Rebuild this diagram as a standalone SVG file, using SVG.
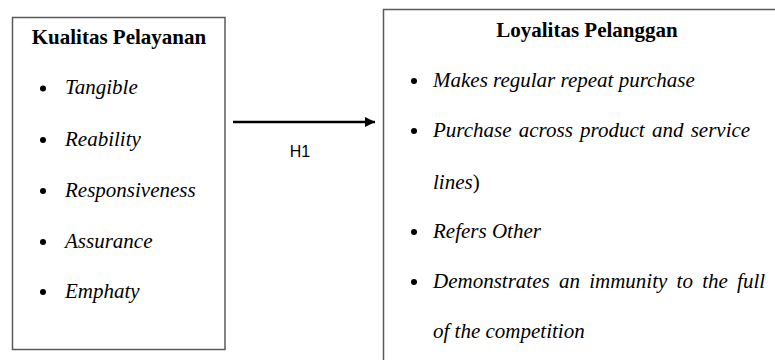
<svg xmlns="http://www.w3.org/2000/svg" width="775" height="360" viewBox="0 0 775 360">
<defs>
<style>
.box{fill:#fff;stroke:#5a5a5a;stroke-width:1.5}
.title{font-family:"Liberation Serif","Times New Roman",serif;font-weight:bold;font-size:21px;fill:#000;text-anchor:middle}
.lbl{font-family:"Liberation Sans",Arial,sans-serif;font-size:16px;fill:#000;text-anchor:middle}
.conn{stroke:#000;stroke-width:2.5;fill:none}
</style>
<marker id="arr" viewBox="0 0 10 10" refX="10" refY="5" markerWidth="5" markerHeight="4" markerUnits="strokeWidth" orient="auto">
<path d="M0,0 L10,5 L0,10 z" fill="#000"/>
</marker>
</defs>
<rect width="775" height="360" fill="#fff"/>
<g id="node-kualitas">
<rect class="box" x="12.5" y="17.5" width="212.5" height="332"/>
<text class="title" x="119" y="44">Kualitas Pelayanan</text>
<g fill="#000">
<circle cx="43" cy="88.5" r="3"/>
<circle cx="43" cy="140" r="3"/>
<circle cx="43" cy="191" r="3"/>
<circle cx="43" cy="242" r="3"/>
<circle cx="43" cy="292" r="3"/>
</g>
<g font-family="Liberation Serif, Times New Roman, serif" font-style="italic" font-size="21" fill="#000">
<text x="65" y="94">Tangible</text>
<text x="65" y="146">Reability</text>
<text x="65" y="197">Responsiveness</text>
<text x="65" y="248">Assurance</text>
<text x="65" y="298">Emphaty</text>
</g>
</g>
<g id="node-loyalitas">
<rect class="box" x="383.5" y="9.5" width="410" height="370"/>
<text class="title" x="587" y="37">Loyalitas Pelanggan</text>
<g fill="#000">
<circle cx="414" cy="81" r="3"/>
<circle cx="414" cy="131" r="3"/>
<circle cx="414" cy="232" r="3"/>
<circle cx="414" cy="282" r="3"/>
</g>
<g font-family="Liberation Serif, Times New Roman, serif" font-style="italic" font-size="21" fill="#000">
<text x="433" y="87">Makes regular repeat purchase</text>
<text x="433" y="137" word-spacing="2">Purchase across product and service</text>
<text x="433" y="189">lines<tspan font-style="normal">)</tspan></text>
<text x="433" y="238">Refers Other</text>
<text x="433" y="288" word-spacing="4">Demonstrates an immunity to the full</text>
<text x="433" y="338">of the competition</text>
</g>
</g>
<g id="connectors">
<line class="conn" x1="233" y1="122" x2="375" y2="122" marker-end="url(#arr)"/>
<text class="lbl" x="300" y="157">H1</text>
</g>
</svg>
